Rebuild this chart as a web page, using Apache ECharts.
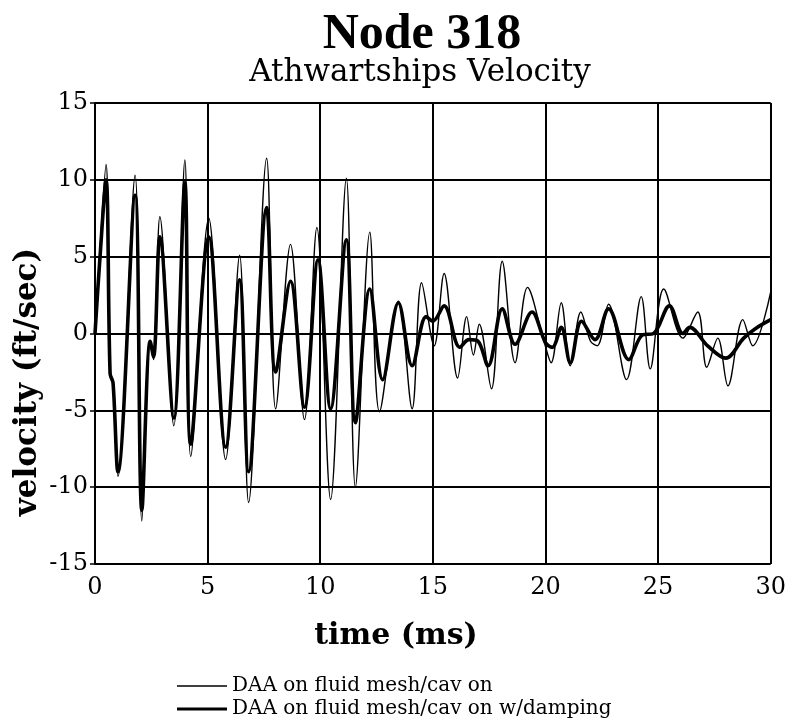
<!DOCTYPE html>
<html>
<head>
<meta charset="utf-8">
<script src="https://cdn.jsdelivr.net/npm/echarts@6/dist/echarts.min.js"></script>
<style>
  html, body { margin: 0; padding: 0; background: #fff; }
  #chart-container { width: 789px; height: 719px; }
</style>
</head>
<body>
<div id="chart-container"></div>
<script>
// time (ms) / velocity (ft/sec)
var thinTime = [0, 0.2, 0.49, 0.67, 0.8, 1.02, 1.78, 2.08, 2.45, 2.6, 2.88, 3.5, 3.99, 4.25, 5.05, 5.8, 6.42, 6.82, 7.62, 8.02, 8.68, 9.3, 9.85, 10.46, 11.16, 11.56, 12.2, 12.63, 13.47, 14.08, 14.5, 15.06, 15.5, 16.1, 16.5, 16.8, 17.06, 17.6, 18.08, 18.65, 19.2, 19.95, 20.25, 20.7, 21.1, 21.57, 22.0, 22.3, 22.8, 23.6, 24.25, 24.65, 25.25, 26.1, 26.76, 27.16, 27.65, 28.1, 28.76, 29.2, 30];
var thinVel = [0, 5, 11.0, -2.8, -3.3, -9.3, 10.3, -12.2, -0.7, -1.7, 7.6, -6.0, 11.3, -8.0, 7.5, -8.2, 5.1, -11.0, 11.4, -4.9, 5.8, -5.6, 6.9, -10.8, 10.1, -10.0, 6.6, -5.1, 2.1, -4.9, 3.3, -0.8, 3.9, -2.9, 1.1, -1.4, 0.6, -3.6, 4.7, -1.9, 3.0, -0.6, -1.9, 2.0, -2.1, 1.4, -0.5, -0.8, 1.9, -3.0, 2.4, -2.3, 2.9, -0.3, 1.4, -2.2, -0.3, -3.4, 0.9, -0.8, 2.7];

var dampTime = [0, 0.2, 0.49, 0.67, 0.8, 1.02, 1.78, 2.08, 2.45, 2.6, 2.88, 3.5, 3.99, 4.25, 5.05, 5.8, 6.42, 6.82, 7.62, 8.02, 8.68, 9.3, 9.9, 10.46, 11.16, 11.56, 12.2, 12.77, 13.47, 14.08, 14.7, 15.0, 15.5, 16.2, 16.6, 17.0, 17.45, 18.08, 18.65, 19.4, 20.0, 20.3, 20.7, 21.1, 21.6, 22.2, 22.8, 23.7, 24.3, 24.8, 25.5, 26.1, 26.4, 27.2, 28.0, 28.8, 29.3, 30];
var dampVel = [0, 4.5, 10.0, -2.6, -3.2, -9.0, 9.0, -11.5, -0.5, -1.5, 6.3, -5.5, 9.8, -7.2, 6.3, -7.4, 3.5, -9.0, 8.2, -2.5, 3.4, -4.8, 4.8, -4.9, 6.1, -5.8, 2.9, -3.0, 2.0, -2.1, 1.1, 0.8, 1.8, -0.9, -0.4, -0.5, -2.1, 1.6, -0.7, 1.4, -0.6, -0.9, 0.4, -1.9, 0.8, -0.4, 1.6, -1.7, -0.1, 0.0, 1.8, 0.0, 0.4, -0.8, -1.6, -0.3, 0.3, 0.9];

var seriesNames = ['DAA on fluid mesh/cav on', 'DAA on fluid mesh/cav on w/damping'];

function pairs(xs, ys) {
    return xs.map(function (x, i) { return [x, ys[i]]; });
}

var times = '"Liberation Serif", "Times New Roman", serif';
var serif = '"DejaVu Serif", serif';
var myChart = echarts.init(document.getElementById('chart-container'));

var legendText = { fontFamily: serif, fontSize: 20, color: '#000' };

var option = {
    backgroundColor: '#fff',
    animation: false,
    title: [
        {
            text: 'Node 318',
            left: 417, top: 5, textAlign: 'center',
            textStyle: { fontFamily: times, fontWeight: 'bold', fontSize: 50, color: '#000' }
        },
        {
            text: 'Athwartships Velocity',
            left: 415, top: 52, textAlign: 'center',
            textStyle: { fontFamily: serif, fontWeight: 'normal', fontSize: 31, color: '#000' }
        }
    ],
    grid: { left: 95, right: 17, top: 103, bottom: 155, containLabel: false },
    xAxis: {
        type: 'value', min: 0, max: 30, interval: 5,
        axisLine: { lineStyle: { color: '#000', width: 2 } },
        axisTick: { show: true, length: 5, lineStyle: { color: '#000', width: 1.5 } },
        axisLabel: { color: '#000', fontFamily: serif, fontSize: 24, margin: 12 },
        splitLine: { show: true, lineStyle: { color: '#000', width: 2 } }
    },
    yAxis: {
        type: 'value', min: -15, max: 15, interval: 5,
        axisLine: { show: true, lineStyle: { color: '#000', width: 2 } },
        axisTick: { show: true, length: 5, lineStyle: { color: '#000', width: 1.5 } },
        axisLabel: { color: '#000', fontFamily: serif, fontSize: 24, margin: 7 },
        splitLine: { show: true, lineStyle: { color: '#000', width: 2 } }
    },
    legend: [
        {
            left: 172, top: 671, icon: 'rect',
            itemWidth: 50, itemHeight: 1.5,
            textStyle: legendText,
            data: [seriesNames[0]]
        },
        {
            left: 172, top: 694, icon: 'rect',
            itemWidth: 50, itemHeight: 3,
            textStyle: legendText,
            data: [seriesNames[1]]
        }
    ],
    graphic: [
        {
            type: 'text', x: 28, y: 382, rotation: Math.PI / 2,
            style: { text: 'velocity (ft/sec)', font: 'bold 31px ' + serif, fill: '#000', align: 'center', verticalAlign: 'middle' }
        },
        {
            type: 'text', x: 396, y: 636,
            style: { text: 'time (ms)', font: 'bold 30px ' + serif, fill: '#000', align: 'center', verticalAlign: 'middle' }
        }
    ],
    series: [
        {
            name: seriesNames[1], type: 'line', smooth: 0.35, symbol: 'none',
            lineStyle: { color: '#000', width: 3.6 }, itemStyle: { color: '#000' },
            data: pairs(dampTime, dampVel), z: 2
        },
        {
            name: seriesNames[0], type: 'line', smooth: 0.35, symbol: 'none',
            lineStyle: { color: '#000', width: 1.4 }, itemStyle: { color: '#000' },
            data: pairs(thinTime, thinVel), z: 3
        }
    ]
};

myChart.setOption(option);
</script>
</body>
</html>
